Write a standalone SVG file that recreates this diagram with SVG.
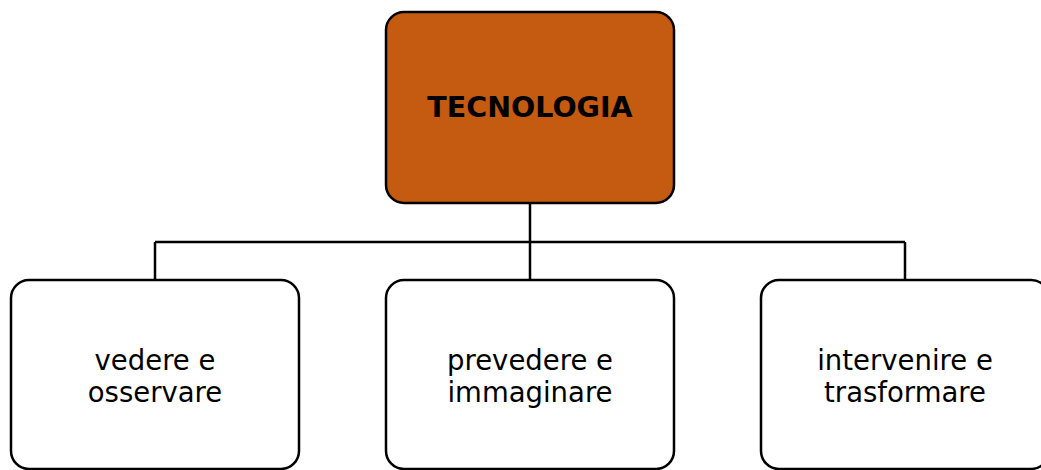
<svg xmlns="http://www.w3.org/2000/svg" width="1041" height="470" viewBox="0 0 1041 470">
<style>
.box{stroke:#000;stroke-width:2.5}
.child{fill:#fff}
.root{fill:#C55A11}
.lbl{font-family:"DejaVu Sans",Verdana,sans-serif;font-size:27.5px;fill:#000;text-anchor:middle}
.title{font-weight:bold;font-size:28.5px}
.conn{fill:none;stroke:#000;stroke-width:2.5}
</style>
<g id="connectors">
<path class="conn" d="M530 203 V242 M155 242 H905 M155 242 V280 M530 242 V280 M905 242 V280"/>
</g>
<g id="node-tecnologia">
<rect class="box root" x="386" y="12" width="288" height="191" rx="18"/>
<text class="lbl title" x="530" y="117">TECNOLOGIA</text>
</g>
<g id="node-vedere">
<rect class="box child" x="11" y="280" width="288" height="189" rx="18"/>
<text class="lbl" x="155" y="370">vedere e</text>
<text class="lbl" x="155" y="402">osservare</text>
</g>
<g id="node-prevedere">
<rect class="box child" x="386" y="280" width="288" height="189" rx="18"/>
<text class="lbl" x="530" y="370">prevedere e</text>
<text class="lbl" x="530" y="402">immaginare</text>
</g>
<g id="node-intervenire">
<rect class="box child" x="761" y="280" width="288" height="189" rx="18"/>
<text class="lbl" x="905" y="370">intervenire e</text>
<text class="lbl" x="905" y="402">trasformare</text>
</g>
</svg>
